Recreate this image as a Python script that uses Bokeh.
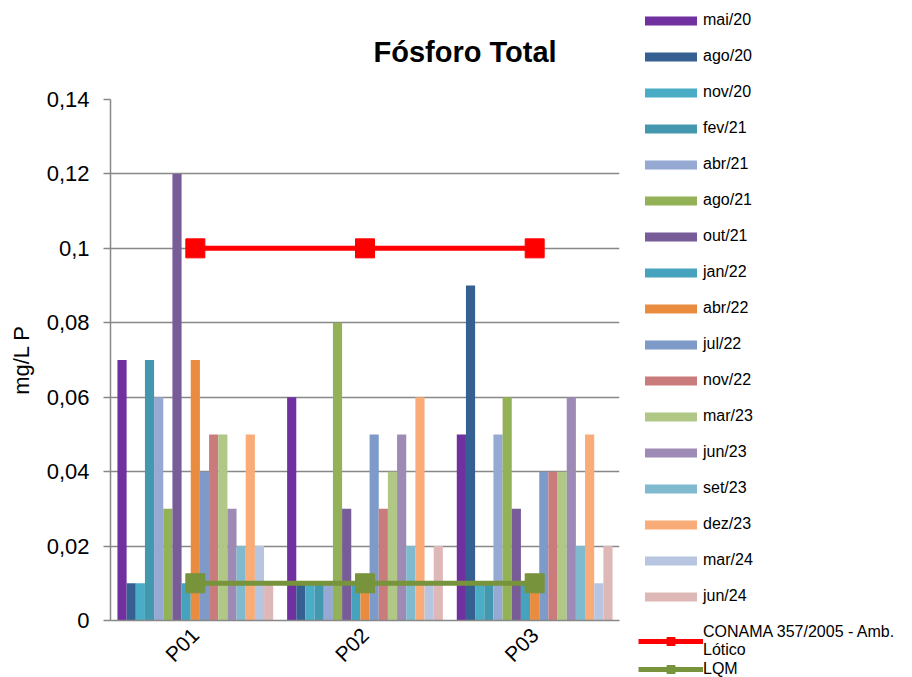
from bokeh.plotting import figure
from bokeh.layouts import row
from bokeh.models import (FactorRange, Range1d, FixedTicker, Legend, LegendItem,
                          ColumnDataSource)
from bokeh.transform import dodge
from bokeh.embed import file_html
from bokeh.resources import INLINE

# ---------------- data ----------------
points = ["P01", "P02", "P03"]
series = ["mai/20", "ago/20", "nov/20", "fev/21", "abr/21", "ago/21", "out/21",
          "jan/22", "abr/22", "jul/22", "nov/22", "mar/23", "jun/23", "set/23",
          "dez/23", "mar/24", "jun/24"]
mai20 = [0.07, 0.06, 0.05]
ago20 = [0.01, 0.01, 0.09]
nov20 = [0.01, 0.01, 0.01]
fev21 = [0.07, 0.01, 0.01]
abr21 = [0.06, 0.01, 0.05]
ago21 = [0.03, 0.08, 0.06]
out21 = [0.12, 0.03, 0.03]
jan22 = [0.01, 0.01, 0.01]
abr22 = [0.07, 0.01, 0.01]
jul22 = [0.04, 0.05, 0.04]
nov22 = [0.05, 0.03, 0.04]
mar23 = [0.05, 0.04, 0.04]
jun23 = [0.03, 0.05, 0.06]
set23 = [0.02, 0.02, 0.02]
dez23 = [0.05, 0.06, 0.05]
mar24 = [0.02, 0.01, 0.01]
jun24 = [0.01, 0.02, 0.02]
values = [mai20, ago20, nov20, fev21, abr21, ago21, out21, jan22, abr22, jul22,
          nov22, mar23, jun23, set23, dez23, mar24, jun24]
conama = [0.1, 0.1, 0.1]
lqm = [0.01, 0.01, 0.01]
conama_label = "CONAMA 357/2005 - Amb.\nLótico"
lqm_label = "LQM"
y_ticks = [0, 0.02, 0.04, 0.06, 0.08, 0.1, 0.12, 0.14]
y_tick_labels = ["0", "0,02", "0,04", "0,06", "0,08", "0,1", "0,12", "0,14"]

colors = ["#7030A0", "#376092", "#4BACC6", "#4398B0", "#95A9D2", "#93B156",
          "#775C98", "#46A3BD", "#E98C40", "#7D9AC8", "#C97C7B", "#B0C786",
          "#9D8BB5", "#7FBACF", "#F9AB78", "#B8C5E0", "#DEB8B7"]
red = "#FF0000"
green = "#77933C"

FONT = "Liberation Sans"
GRID = "#888888"
H = 677

bar_sources = [ColumnDataSource(dict(cat=points, val=v)) for v in values]
conama_src = ColumnDataSource(dict(cat=points, val=conama))
lqm_src = ColumnDataSource(dict(cat=points, val=lqm))
bw = 0.054
n = len(series)


def draw_series(fig):
    bars = []
    for i, (src, col) in enumerate(zip(bar_sources, colors)):
        bars.append(fig.vbar(x=dodge("cat", (i - (n - 1) / 2) * bw, range=fig.x_range),
                             top="val", width=bw, source=src,
                             fill_color=col, line_color=None))
    a = fig.line(x="cat", y="val", source=conama_src, line_color=red, line_width=5)
    b = fig.scatter(x="cat", y="val", source=conama_src, marker="square", size=19,
                    color=red)
    c = fig.line(x="cat", y="val", source=lqm_src, line_color=green, line_width=5)
    d = fig.scatter(x="cat", y="val", source=lqm_src, marker="square", size=19,
                    color=green)
    return bars, (a, b), (c, d)


# ---------------- main chart ----------------
p = figure(width=630, height=H, output_backend="svg", toolbar_location=None,
           x_range=FactorRange(factors=points, range_padding=0),
           y_range=Range1d(0, 0.14),
           min_border_left=110, min_border_right=11, min_border_top=99,
           min_border_bottom=57)
p.frame_align = False
p.outline_line_color = None
p.background_fill_color = "white"
p.border_fill_color = "white"

p.title.text = "Fósforo Total"
p.title.text_font = FONT
p.title.text_font_size = "29px"
p.title.text_font_style = "bold"
p.title.text_color = "#000000"
p.title.align = "left"
p.title.offset = 263
p.title.standoff = 64

draw_series(p)

p.xgrid.grid_line_color = None
p.ygrid.grid_line_color = GRID
p.ygrid.grid_line_width = 1.5
p.yaxis.ticker = FixedTicker(ticks=y_ticks)
p.yaxis.major_label_overrides = dict(zip(y_ticks, y_tick_labels))
p.yaxis.minor_tick_line_color = None
p.yaxis.major_tick_in = 0
p.yaxis.major_tick_out = 7
p.yaxis.major_tick_line_color = GRID
p.yaxis.major_tick_line_width = 1.5
p.yaxis.axis_line_color = GRID
p.yaxis.axis_line_width = 1.5
p.yaxis.major_label_text_font = FONT
p.yaxis.major_label_text_font_size = "22px"
p.yaxis.major_label_text_color = "#000000"
p.yaxis.major_label_standoff = 14
p.yaxis.axis_label = "mg/L P"
p.yaxis.axis_label_text_font = FONT
p.yaxis.axis_label_text_font_size = "22px"
p.yaxis.axis_label_text_font_style = "normal"
p.yaxis.axis_label_text_color = "#000000"
p.yaxis.axis_label_standoff = 10

p.xaxis.axis_line_color = GRID
p.xaxis.axis_line_width = 1.5
p.xaxis.major_tick_line_color = None
p.xaxis.major_label_orientation = 0.785398
p.xaxis.major_label_text_font = FONT
p.xaxis.major_label_text_font_size = "21px"
p.xaxis.major_label_text_color = "#000000"
p.xaxis.major_label_standoff = 5

# ---------------- legend panel (same series, data kept out of view) ----------------
lg = figure(width=282, height=H, output_backend="svg", toolbar_location=None,
            x_range=FactorRange(factors=points, range_padding=0),
            y_range=Range1d(1, 2), x_axis_location=None, y_axis_location=None,
            min_border=0)
lg.frame_align = False
lg.title.visible = False
lg.grid.grid_line_color = None
lg.outline_line_color = None
lg.background_fill_color = "white"
lg.border_fill_color = "white"

kbars, (kl1, ks1), (kl2, ks2) = draw_series(lg)

common = dict(orientation="vertical", glyph_width=65, label_standoff=0,
              padding=0, margin=0, border_line_color=None,
              background_fill_alpha=0, label_text_font=FONT,
              label_text_font_size="16px", label_text_color="#000000",
              label_width=10)

items1 = [LegendItem(label=name, renderers=[r]) for name, r in zip(series, kbars)]
legend1 = Legend(items=items1, location=(8, 71), glyph_height=11,
                 label_height=20, spacing=16, **common)
lg.add_layout(legend1, "center")

items2 = [LegendItem(label=conama_label, renderers=[kl1, ks1]),
          LegendItem(label=lqm_label, renderers=[kl2, ks2])]
legend2 = Legend(items=items2, location=(8, -2), glyph_height=20,
                 label_height=20, spacing=0, label_text_line_height=1.2,
                 **common)
lg.add_layout(legend2, "center")

layout = row(p, lg, spacing=0)
open("out.html", "w").write(file_html(layout, INLINE))
